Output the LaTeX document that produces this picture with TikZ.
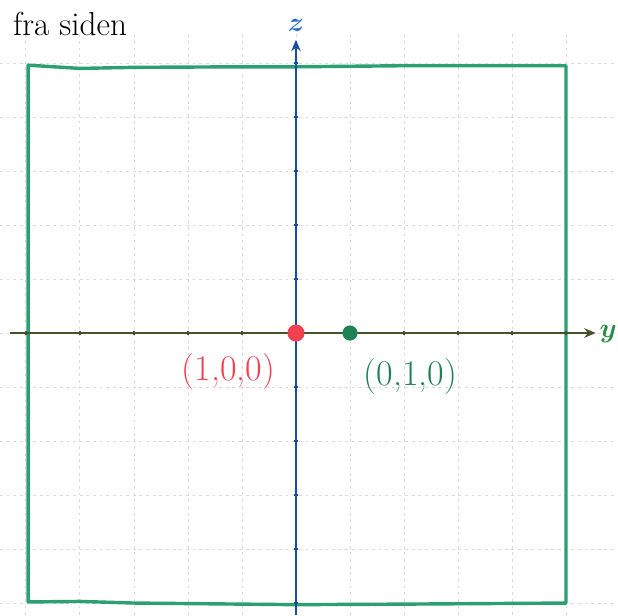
\documentclass[tikz,border=0pt]{standalone}
\usepackage{fontspec}
\usepackage{amsmath}
\usepackage{bm}
\tikzset{
  gridline/.style={gray!28, line width=0.5pt, dash pattern=on 1.5pt off 2pt},
  frameline/.style={draw=sqgreen, line width=1.8pt, line join=round},
  axisline/.style={line width=1.1pt, -{Stealth[length=6pt,width=5pt]}},
  tick/.style={line width=0.6pt},
  dotnode/.style={circle, inner sep=0pt, minimum size=9pt},
  coordlabel/.style={font=\fontsize{19}{22}\selectfont}
}
\definecolor{sqgreen}{RGB}{45,160,115}
\definecolor{zblue}{RGB}{25,75,165}
\definecolor{zlab}{RGB}{40,110,200}
\definecolor{yolive}{RGB}{70,82,40}
\definecolor{ylab}{RGB}{40,140,70}
\definecolor{ptred}{RGB}{240,65,80}
\definecolor{ptgreen}{RGB}{30,130,85}
\usetikzlibrary{arrows.meta}
\begin{document}
\begin{tikzpicture}[x=1cm,y=1cm]
\useasboundingbox (-5.481,-5.222) rectangle (5.963,6.167);
% grid
\foreach \i in {-5,...,5} {
  \draw[gridline] (\i,-5.222) -- (\i,5.6);
}
\foreach \j in {-5,...,5} {
  \draw[gridline] (-5.481,\j) -- (5.963,\j);
}
% frame
\draw[frameline] (-4.96,4.96) -- (-4,4.90) -- (-3,4.92) -- (-1,4.93) -- (0,4.93) -- (2,4.95) -- (5,4.95) -- (5,-5.0) -- (2,-5.02) -- (0,-5.03) -- (-3,-5.0) -- (-4,-4.97) -- (-4.96,-4.98) -- cycle;
% axes
\coordinate (yl) at (-5.3,0);
\coordinate (yr) at (5.55,0);
\coordinate (zb) at (0,-5.222);
\coordinate (zt) at (0,5.43);
\draw[axisline, yolive] (yl) -- (yr);
\draw[axisline, zblue] (zb) -- (zt);
\foreach \i in {-5,...,-1,1,2,...,5} {
  \draw[tick, yolive] (\i,-0.04) -- (\i,0.04);
}
\foreach \j in {-5,...,-1,1,2,...,5} {
  \draw[tick, zblue] (-0.04,\j) -- (0.04,\j);
}
\node[text=ylab, font=\fontsize{15}{18}\selectfont, anchor=west, inner sep=0.5pt] (ylabel) at (5.6,-0.02) {$\bm{y}$};
\node[text=zlab, font=\fontsize{15}{18}\selectfont] (zlabel) at (0,5.7) {$\bm{z}$};
% points
\node[dotnode, fill=ptred] (p1) at (0,0) {};
\node[dotnode, fill=ptgreen, minimum size=8pt] (p2) at (1,0) {};
\node[coordlabel, text=ptred] (l1) at (-1.25,-0.72) {(1,0,0)};
\node[coordlabel, text=ptgreen] (l2) at (2.12,-0.8) {(0,1,0)};
% title
\node[anchor=west, font=\fontsize{17.5}{20}\selectfont] (title) at (-5.36,5.72) {fra siden};
\end{tikzpicture}
\end{document}
